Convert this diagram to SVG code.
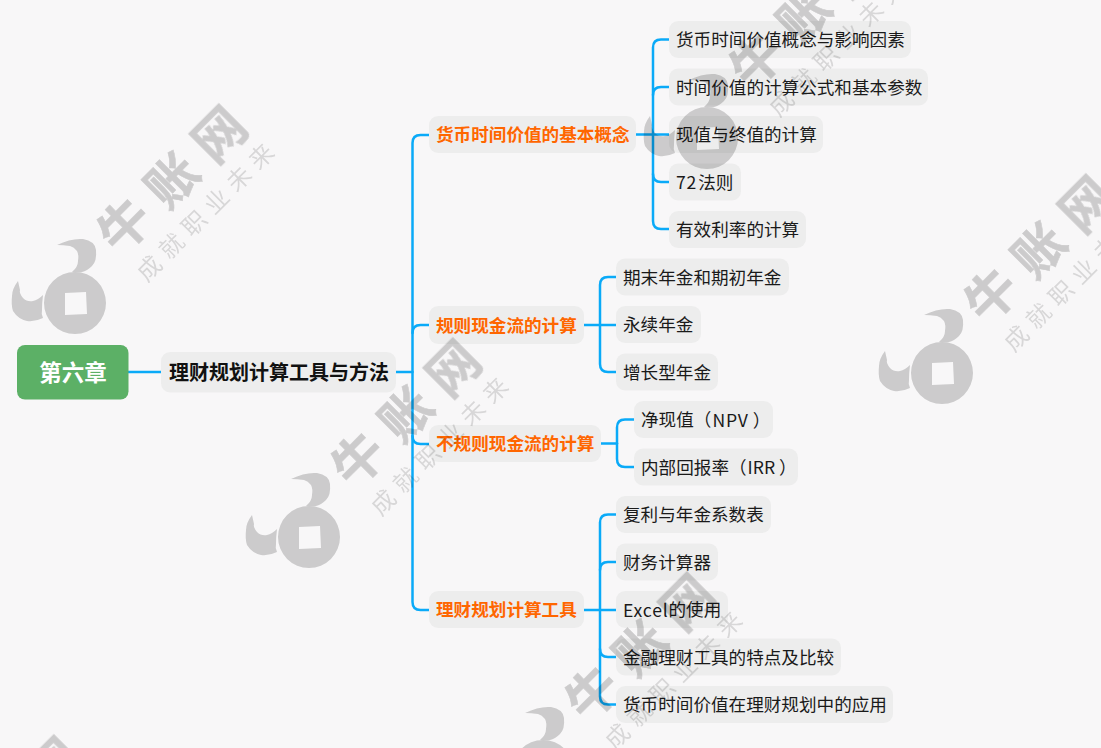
<svg xmlns="http://www.w3.org/2000/svg" width="1101" height="748" viewBox="0 0 1101 748">
<style>
text{font-family:"Noto Sans CJK SC","Noto Sans",sans-serif;dominant-baseline:central}
.b{fill:#ededed}
.l{font-size:17.6px;fill:#1a1a1a}
.o{font-size:17.6px;font-weight:700;fill:#ff6600}
.m{font-size:20px;font-weight:700;fill:#111}
.r{font-size:22.5px;font-weight:700;fill:#fff;text-anchor:middle}
.s{letter-spacing:.8px}
#connectors path{fill:none;stroke:#0aaaf8;stroke-width:2.5;stroke-linecap:round}
.w1{font-size:51px;font-weight:700;fill:#000;stroke:#000;stroke-width:.6;text-anchor:middle}
.w2{font-size:24px;fill:#000;text-anchor:middle}
</style>
<defs>
<filter id="soft" x="-5%" y="-5%" width="110%" height="110%"><feGaussianBlur stdDeviation="0.35"/></filter>
<g id="wm" filter="url(#soft)">
<g opacity=".18">
<path fill-rule="evenodd" d="M0-31A31 31 0 1 1 0 31A31 31 0 1 1 0-31ZM-10-10L11-11L12 11L-10 12Z"/>
<path d="M-18-58Q-4-65 8-64Q20-62 21-53Q22-42 17-37Q12-32 7-31Q2-30-3-31Q3-36 3-42Q4-48 2-52Q-1-56-5-57Q-12-58-18-58Z"/>
<path d="M-57-22Q-63-14-63-7Q-64 2-62 8Q-57 16-48 18Q-40 19-32 15Q-34 11-33 7Q-33 0-32-8Q-37-3-42-2Q-48-1-52-5Q-56-10-55-13Z"/>
<text class="w1" transform="translate(47 -80) rotate(-45)">牛</text>
<text class="w1" transform="translate(95 -125) rotate(-45)">账</text>
<text class="w1" transform="translate(142 -171) rotate(-45)">网</text>
</g>
<g opacity=".13">
<text class="w2" transform="translate(73 -36) rotate(-45)">成</text>
<text class="w2" transform="translate(95.400 -58.400) rotate(-45)">就</text>
<text class="w2" transform="translate(117.800 -80.800) rotate(-45)">职</text>
<text class="w2" transform="translate(140.200 -103.200) rotate(-45)">业</text>
<text class="w2" transform="translate(162.600 -125.600) rotate(-45)">未</text>
<text class="w2" transform="translate(185 -148) rotate(-45)">来</text>
</g>
</g>
</defs>
<rect width="1101" height="748" fill="#f8f7f8"/>
<g id="connectors">
<path d="M128.500 372H161"/>
<path d="M396 372H412.500"/>
<path d="M429 135H420.500Q412.500 135 412.500 143V602Q412.500 610 420.500 610H429"/>
<path d="M412.500 333Q412.500 325 420.500 325H429"/>
<path d="M412.500 436Q412.500 444 420.500 444H429"/>
<path d="M636 134.500H669"/>
<path d="M669 39.500H661Q653 39.500 653 47.500V221Q653 229 661 229H669"/>
<path d="M653 95Q653 87 661 87H669"/>
<path d="M653 174Q653 182 661 182H669"/>
<path d="M584 325H616"/>
<path d="M616 277H608Q600 277 600 285V364Q600 372 608 372H616"/>
<path d="M601 443.500H617"/>
<path d="M634 419.500H625Q617 419.500 617 427.500V459Q617 467 625 467H634"/>
<path d="M584 610H616"/>
<path d="M616 514.500H608Q600 514.500 600 522.500V696.500Q600 704.500 608 704.500H616"/>
<path d="M600 570Q600 562 608 562H616"/>
<path d="M600 649Q600 657 608 657H616"/>
</g>
<g id="root"><rect x="17" y="345" width="111.500" height="54.500" rx="8" fill="#5cb066"/><text class="r" x="73" y="371">第六章</text></g>
<g id="main"><rect class="b" x="161" y="352" width="235" height="40.500" rx="9"/><text class="m" x="169" y="371">理财规划计算工具与方法</text></g>
<g id="b1"><rect class="b" x="429" y="116" width="207" height="37" rx="9"/><text class="o" x="436" y="133.500">货币时间价值的基本概念</text></g>
<g id="b2"><rect class="b" x="429" y="306" width="155" height="38" rx="9"/><text class="o" x="436" y="324">规则现金流的计算</text></g>
<g id="b3"><rect class="b" x="429" y="425" width="172" height="37" rx="9"/><text class="o" x="436" y="442.500">不规则现金流的计算</text></g>
<g id="b4"><rect class="b" x="429" y="591" width="155" height="37" rx="9"/><text class="o" x="436" y="608.500">理财规划计算工具</text></g>
<g id="n1"><rect class="b" x="669" y="21" width="242" height="37" rx="9"/><text class="l" x="676" y="38.500">货币时间价值概念与影响因素</text></g>
<g id="n2"><rect class="b" x="669" y="68.500" width="259" height="37" rx="9"/><text class="l" x="676" y="86">时间价值的计算公式和基本参数</text></g>
<g id="n3"><rect class="b" x="669" y="116" width="154" height="37" rx="9"/><text class="l" x="676" y="133.500">现值与终值的计算</text></g>
<g id="n4"><rect class="b" x="669" y="163.500" width="72" height="37" rx="9"/><text class="l" x="676" y="181"><tspan class="s">72</tspan><tspan dx="1">法则</tspan></text></g>
<g id="n5"><rect class="b" x="669" y="211" width="137" height="37" rx="9"/><text class="l" x="676" y="228.500">有效利率的计算</text></g>
<g id="n6"><rect class="b" x="616" y="258.500" width="173" height="37" rx="9"/><text class="l" x="623" y="276">期末年金和期初年金</text></g>
<g id="n7"><rect class="b" x="616" y="306" width="85" height="37" rx="9"/><text class="l" x="623" y="323.500">永续年金</text></g>
<g id="n8"><rect class="b" x="616" y="353.500" width="102" height="37" rx="9"/><text class="l" x="623" y="371">增长型年金</text></g>
<g id="n9"><rect class="b" x="634" y="401" width="139" height="37" rx="9"/><text class="l" x="641" y="418.500">净现值（<tspan class="s" dx="1">NPV</tspan><tspan dx="4">）</tspan></text></g>
<g id="n10"><rect class="b" x="634" y="448.500" width="164" height="37" rx="9"/><text class="l" x="641" y="466">内部回报率（<tspan dx="1">IRR</tspan><tspan dx="4">）</tspan></text></g>
<g id="n11"><rect class="b" x="616" y="496" width="155" height="37" rx="9"/><text class="l" x="623" y="513.500">复利与年金系数表</text></g>
<g id="n12"><rect class="b" x="616" y="543.500" width="102" height="37" rx="9"/><text class="l" x="623" y="561">财务计算器</text></g>
<g id="n13"><rect class="b" x="616" y="591" width="112" height="37" rx="9"/><text class="l" x="623" y="608.500"><tspan class="s">Excel</tspan>的使用</text></g>
<g id="n14"><rect class="b" x="616" y="638.500" width="225" height="37" rx="9"/><text class="l" x="623" y="656">金融理财工具的特点及比较</text></g>
<g id="n15"><rect class="b" x="616" y="686" width="277" height="37" rx="9"/><text class="l" x="623" y="703.500">货币时间价值在理财规划中的应用</text></g>
<g id="watermarks">
<use href="#wm" x="75" y="303"/>
<use href="#wm" x="309" y="537"/>
<use href="#wm" x="707" y="138"/>
<use href="#wm" x="942" y="373"/>
<use href="#wm" x="543" y="771"/>
<use href="#wm" x="-90" y="934"/>
</g>
</svg>
